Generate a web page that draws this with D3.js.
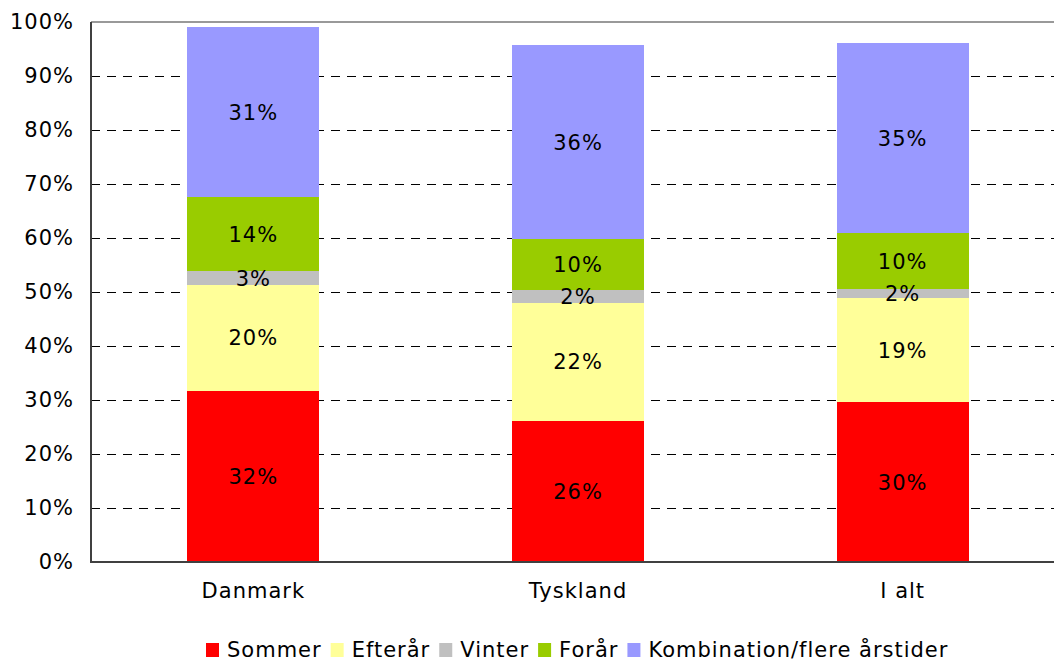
<!DOCTYPE html>
<html><head><meta charset="utf-8">
<script src="https://cdn.jsdelivr.net/npm/d3@7"></script>
<style>body{margin:0;background:#fff}svg{display:block}text{font-family:"DejaVu Sans",Verdana,sans-serif;letter-spacing:1px}</style>
</head><body><svg id="c" width="1054" height="662"></svg>
<script>
const categories = ["Danmark", "Tyskland", "I alt"];
const seriesNames = ["Sommer", "Efterår", "Vinter", "Forår", "Kombination/flere årstider"];
const colors = ["#ff0000", "#ffff99", "#c0c0c0", "#99cc00", "#9999ff"];
const sommer = [31.7, 26.1, 29.6];
const efteraar = [19.6, 21.9, 19.3];
const vinter = [2.6, 2.35, 1.6];
const foraar = [13.7, 9.5, 10.4];
const kombination = [31.4, 35.8, 35.2];
const yTicks = [0, 10, 20, 30, 40, 50, 60, 70, 80, 90, 100];

(function () {
const FS = 21;
const seriesValues = [sommer, efteraar, vinter, foraar, kombination];
const rows = categories.map((c, i) => {
  const r = {cat: c};
  seriesNames.forEach((s, j) => r[s] = seriesValues[j][i]);
  return r;
});

const svg = d3.select("#c");
const pL = 91, pR = 1065, pT = 22, pB = 562;
const x = d3.scaleBand().domain(categories).range([pL, pR]).paddingInner(0).paddingOuter(0);
const y = d3.scaleLinear().domain([0, 100]).range([pB, pT]);
const barW = 132;

// gridlines
svg.append("g").selectAll("line").data(yTicks.filter(t => t > 0 && t < 100)).join("line")
  .attr("x1", pL).attr("x2", 1054).attr("y1", d => y(d)).attr("y2", d => y(d))
  .attr("stroke", "#000").attr("stroke-width", 1).attr("stroke-dasharray", "9,7")
  .attr("shape-rendering", "crispEdges");

// top border
svg.append("line").attr("x1", pL).attr("x2", 1054).attr("y1", y(100)).attr("y2", y(100))
  .attr("stroke", "#999").attr("stroke-width", 2);

// stacked bars
const stack = d3.stack().keys(seriesNames)(rows);
const g = svg.append("g");
stack.forEach((layer, j) => {
  g.append("g").selectAll("rect").data(layer).join("rect")
    .attr("x", d => x(d.data.cat) + x.bandwidth() / 2 - barW / 2)
    .attr("width", barW)
    .attr("y", d => y(d[1]))
    .attr("height", d => y(d[0]) - y(d[1]))
    .attr("fill", colors[j])
    .attr("shape-rendering", "crispEdges");
});
const fmt = v => Math.round(v) + "%";
stack.forEach((layer, j) => {
  g.append("g").selectAll("text").data(layer).join("text")
    .attr("x", d => x(d.data.cat) + x.bandwidth() / 2)
    .attr("y", d => (y(d[0]) + y(d[1])) / 2)
    .attr("dy", "0.36em")
    .attr("text-anchor", "middle")
    .attr("font-size", FS).attr("fill", "#000")
    .text(d => fmt(d[1] - d[0]));
});

// axes
const yAxis = d3.axisLeft(y).tickValues(yTicks).tickSize(0).tickPadding(17).tickFormat(d => d + "%");
const ya = svg.append("g").attr("transform", `translate(${pL},0)`).call(yAxis);
ya.select(".domain").remove();
ya.selectAll("text").attr("font-size", FS).attr("fill", "#000").attr("font-family", '"DejaVu Sans",Verdana,sans-serif');

svg.append("line").attr("x1", pL).attr("x2", pL).attr("y1", pT).attr("y2", pB + 1)
  .attr("stroke", "#404040").attr("stroke-width", 2);
svg.append("line").attr("x1", pL).attr("x2", 1054).attr("y1", pB).attr("y2", pB)
  .attr("stroke", "#404040").attr("stroke-width", 2);

const xAxis = d3.axisBottom(x).tickSize(0).tickPadding(21);
const xa = svg.append("g").attr("transform", `translate(0,${pB})`).call(xAxis);
xa.select(".domain").remove();
xa.selectAll("text").attr("font-size", FS).attr("fill", "#000").attr("font-family", '"DejaVu Sans",Verdana,sans-serif');

// legend
const leg = svg.append("g");
let cx = 206;
seriesNames.forEach((s, j) => {
  const it = leg.append("g").attr("transform", `translate(${cx},0)`);
  it.append("rect").attr("x", 0).attr("y", 643).attr("width", 13).attr("height", 14).attr("fill", colors[j]);
  const t = it.append("text").attr("x", 21).attr("y", 649).attr("dy", "0.36em")
    .attr("font-size", FS).attr("fill", "#000").text(s);
  cx += 21 + t.node().getComputedTextLength() + 9;
});
})();
</script></body></html>
